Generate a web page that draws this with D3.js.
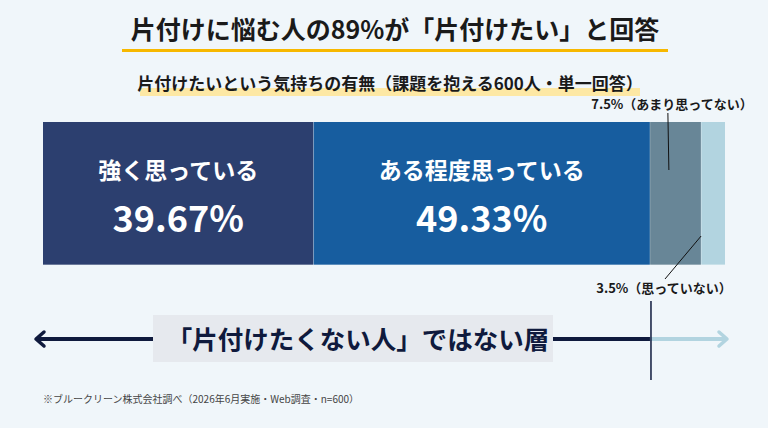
<!DOCTYPE html>
<html>
<head>
<meta charset="utf-8">
<script src="https://cdn.jsdelivr.net/npm/d3@7"></script>
<style>
  html, body { margin: 0; padding: 0; background: #f0f6fa; }
  svg { display: block; font-family: "Noto Sans CJK JP", "Noto Sans", sans-serif; }
</style>
</head>
<body>
<svg id="chart"></svg>
<script>
// survey answers (single answer, n=600)
const categories = ["強く思っている", "ある程度思っている", "あまり思ってない", "思っていない"];
const values = [39.67, 49.33, 7.5, 3.5];
const colors = ["#2c3f6f", "#175d9f", "#688697", "#b2d4e0"];
const valueLabels = ["39.67%", "49.33%", "7.5%", "3.5%"];

const title = "片付けに悩む人の89%が「片付けたい」と回答";
const subtitle = "片付けたいという気持ちの有無（課題を抱える600人・単一回答）";
const groupLabel = "「片付けたくない人」ではない層";
const footnote = "※ブルークリーン株式会社調べ（2026年6月実施・Web調査・n=600）";

const width = 768, height = 428;
const barTop = 122, barHeight = 143;

const svg = d3.select("#chart").attr("width", width).attr("height", height);

svg.append("rect").attr("width", width).attr("height", height).attr("fill", "#f0f6fa");

const x = d3.scaleLinear().domain([0, 100]).range([43, 725]);

// stacked starts
let acc = 0;
const segs = values.map((v, i) => {
  const s = { name: categories[i], value: v, start: acc, color: colors[i], label: valueLabels[i] };
  acc += v;
  return s;
});

// title + underline
svg.append("rect")
  .attr("x", 122).attr("y", 49).attr("width", 546).attr("height", 3)
  .attr("fill", "#f7b800");
svg.append("text")
  .text(title)
  .attr("x", 395).attr("y", 39)
  .attr("text-anchor", "middle")
  .attr("font-size", 25).attr("font-weight", 700)
  .attr("fill", "#1a1a1a");

// subtitle + highlighter
svg.append("rect")
  .attr("x", 140).attr("y", 88).attr("width", 500).attr("height", 8)
  .attr("fill", "#fde8a4");
svg.append("text")
  .text(subtitle)
  .attr("x", 390).attr("y", 90)
  .attr("text-anchor", "middle")
  .attr("font-size", 17).attr("font-weight", 700)
  .attr("fill", "#1a1a1a");

// bars
svg.selectAll("rect.seg")
  .data(segs)
  .join("rect")
  .attr("class", "seg")
  .attr("x", d => x(d.start))
  .attr("y", barTop)
  .attr("width", d => x(d.start + d.value) - x(d.start))
  .attr("height", barHeight)
  .attr("fill", d => d.color);

// thin light edges between segments and along the bottom
svg.selectAll("line.edge")
  .data(segs.slice(1))
  .join("line")
  .attr("class", "edge")
  .attr("x1", d => x(d.start)).attr("x2", d => x(d.start))
  .attr("y1", barTop).attr("y2", barTop + barHeight)
  .attr("stroke", "rgba(255,255,255,0.25)").attr("stroke-width", 1);
svg.append("line")
  .attr("x1", x(0)).attr("x2", x(100))
  .attr("y1", barTop + barHeight - 0.5).attr("y2", barTop + barHeight - 0.5)
  .attr("stroke", "rgba(255,255,255,0.3)").attr("stroke-width", 1);

// labels inside the two big segments
const big = segs.slice(0, 2);
svg.selectAll("text.cat")
  .data(big)
  .join("text")
  .attr("class", "cat")
  .text(d => d.name)
  .attr("x", d => x(d.start + d.value / 2))
  .attr("y", 179)
  .attr("text-anchor", "middle")
  .attr("font-size", 23).attr("font-weight", 700)
  .attr("fill", "#fff");
svg.selectAll("text.pct")
  .data(big)
  .join("text")
  .attr("class", "pct")
  .text(d => d.label)
  .attr("x", d => x(d.start + d.value / 2))
  .attr("y", 232)
  .attr("text-anchor", "middle")
  .attr("font-size", 36).attr("font-weight", 700)
  .attr("fill", "#fff");

// callouts for the two small segments
const s3 = segs[2], s4 = segs[3];
const c3 = x(s3.start + s3.value * 0.35);
svg.append("line")
  .attr("x1", c3).attr("x2", c3 + 1)
  .attr("y1", 113).attr("y2", 170)
  .attr("stroke", "#111").attr("stroke-width", 1);
svg.append("text")
  .text(`${s3.label}（${s3.name}）`)
  .attr("x", 672).attr("y", 109)
  .attr("text-anchor", "middle")
  .attr("font-size", 13).attr("font-weight", 700)
  .attr("fill", "#1a1a1a");

svg.append("line")
  .attr("x1", 665).attr("y1", 279)
  .attr("x2", x(s4.start)).attr("y2", 236)
  .attr("stroke", "#111").attr("stroke-width", 1);
svg.append("text")
  .text(`${s4.label}（${s4.name}）`)
  .attr("x", 664).attr("y", 293)
  .attr("text-anchor", "middle")
  .attr("font-size", 13).attr("font-weight", 700)
  .attr("fill", "#1a1a1a");

// bracket arrows: "not unwilling" group vs the rest
const split = x(values[0] + values[1]);
const arrowY = 339;
const navy = "#0f1a3d";

svg.append("line")
  .attr("x1", 36).attr("x2", split)
  .attr("y1", arrowY).attr("y2", arrowY)
  .attr("stroke", navy).attr("stroke-width", 4);
svg.append("path")
  .attr("d", `M${44},${arrowY - 7} L${36},${arrowY} L${44},${arrowY + 7}`)
  .attr("fill", "none").attr("stroke", navy).attr("stroke-width", 3.5)
  .attr("stroke-linecap", "round").attr("stroke-linejoin", "round");

const light = "#b2d4e0";
svg.append("line")
  .attr("x1", split).attr("x2", x(100) + 2)
  .attr("y1", arrowY).attr("y2", arrowY)
  .attr("stroke", light).attr("stroke-width", 4);
svg.append("path")
  .attr("d", `M${x(100) - 6},${arrowY - 7} L${x(100) + 2},${arrowY} L${x(100) - 6},${arrowY + 7}`)
  .attr("fill", "none").attr("stroke", light).attr("stroke-width", 3.5)
  .attr("stroke-linecap", "round").attr("stroke-linejoin", "round");

svg.append("line")
  .attr("x1", split + 1).attr("x2", split + 1)
  .attr("y1", 301).attr("y2", 380)
  .attr("stroke", navy).attr("stroke-width", 1.5);

// group label box
svg.append("rect")
  .attr("x", 153).attr("y", 315).attr("width", 400).attr("height", 47)
  .attr("fill", "#e6e9ee");
svg.append("text")
  .text(groupLabel)
  .attr("x", 358).attr("y", 349)
  .attr("text-anchor", "middle")
  .attr("font-size", 25.5).attr("font-weight", 700)
  .attr("fill", navy);

// footnote
svg.append("text")
  .text(footnote)
  .attr("x", 43).attr("y", 403)
  .attr("font-size", 10)
  .attr("fill", "#444");
</script>
</body>
</html>
